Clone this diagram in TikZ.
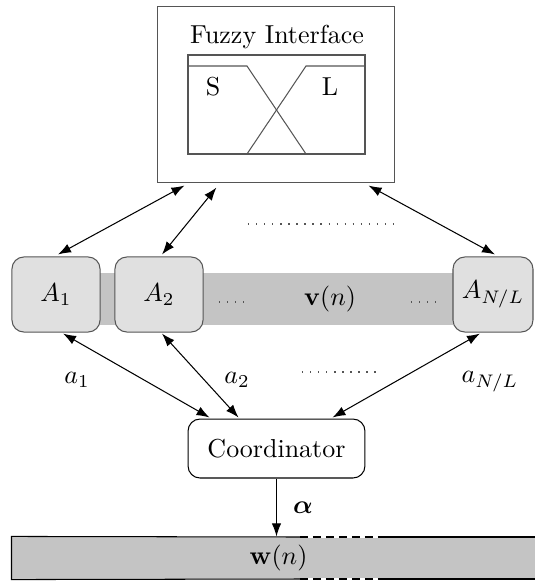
\documentclass[tikz,border=0pt]{standalone}
\usepackage{amsmath,amssymb,bm}
\usetikzlibrary{arrows.meta,calc}
\definecolor{agentgray}{RGB}{224,224,224}
\definecolor{bandgray}{RGB}{196,196,196}
\definecolor{edgegray}{RGB}{85,85,85}

\begin{document}
\begin{tikzpicture}[x=0.385pt,y=-0.385pt,>={Latex[length=5pt,width=3.6pt]},
    agent/.style={draw=edgegray,fill=agentgray,rounded corners=4.6pt,minimum width=33.9pt,minimum height=28.9pt,inner sep=0pt},
    link/.style={<->,thin},
    dotrow/.style={edgegray,dash pattern=on 0.5pt off 2.6pt}]
    \useasboundingbox (0,0) rectangle (535,581);

    % Fuzzy interface
    \node[draw=edgegray,minimum width=90.9pt,minimum height=67.4pt] (fuzzy) at (276,94.5) {};
    \node (title) at (277,37) {Fuzzy Interface};
    \draw[edgegray] (188,55) rectangle (365,154);
    \draw[edgegray] (188,66) -- (247,66) -- (306,154);
    \draw[edgegray] (247,154) -- (306,66) -- (365,66);
    \node (small) at (213,87) {S};
    \node (large) at (330,87) {L};

    % Shared vector v(n)
    \node[fill=bandgray,minimum width=135.9pt,minimum height=20pt,inner sep=0pt] (vband) at (276.5,299) {};
    \draw[dotrow] (219,302) -- (246,302);
    \node (vlabel) at (330,299) {$\mathbf{v}(n)$};
    \draw[dotrow] (411,302) -- (438,302);

    % Agents
    \node[agent] (a1) at (56,294.5) {$A_1$};
    \node[agent] (a2) at (159,294.5) {$A_2$};
    \node[agent,minimum width=30.8pt] (anl) at (493,294.5) {$A_{N/L}$};

    % Coordinator
    \node[draw,rounded corners=4.6pt,minimum width=68.1pt,minimum height=22.7pt] (coord) at (276.5,448.5) {Coordinator};

    % Output vector w(n)
    \node[fill=bandgray,minimum width=205.2pt,minimum height=16.2pt,inner sep=0pt] (wband) at (278.5,558) {$\mathbf{w}(n)$};
    \draw (300,537) -- (wband.north west) -- (wband.south west) -- (300,579);
    \draw (385,537) -- (545,537);
    \draw (385,579) -- (545,579);
    \draw[white] (300,537) -- (385,537) (300,579) -- (385,579);
    \draw[dash pattern=on 3pt off 2pt] (300,537) -- (385,537) (300,579) -- (385,579);

    % Links to fuzzy interface
    \draw[link] ($(fuzzy.south west)+(27,3)$) -- ($(a1.north)+(2,-2)$);
    \draw[link] ($(fuzzy.south west)+(59,5)$) -- ($(a2.north)+(3,-2)$);
    \draw[link] ($(fuzzy.south east)+(-26,3)$) -- ($(anl.north)+(2,-2)$);
    \draw[dotrow] (248,224) -- (400,224);

    % Links to coordinator
    \draw[link] ($(a1.south)+(7,1)$) -- ($(coord.north west)+(22,-1)$);
    \draw[link] ($(a2.south)+(3,1)$) -- ($(coord.north west)+(51,-1)$);
    \draw[link] ($(anl.south)+(-13,1)$) -- ($(coord.north east)+(-33,-1)$);
    \draw[dotrow] (302,372) -- (380,372);
    \node (lab1) at (77,380) {$a_1$};
    \node (lab2) at (237,380) {$a_2$};
    \node (labn) at (490,382) {$a_{N/L}$};

    % Weights
    \draw[->] (coord.south) -- (coord.south |- wband.north);
    \node (alpha) at (303,508) {$\boldsymbol{\alpha}$};
\end{tikzpicture}
\end{document}
